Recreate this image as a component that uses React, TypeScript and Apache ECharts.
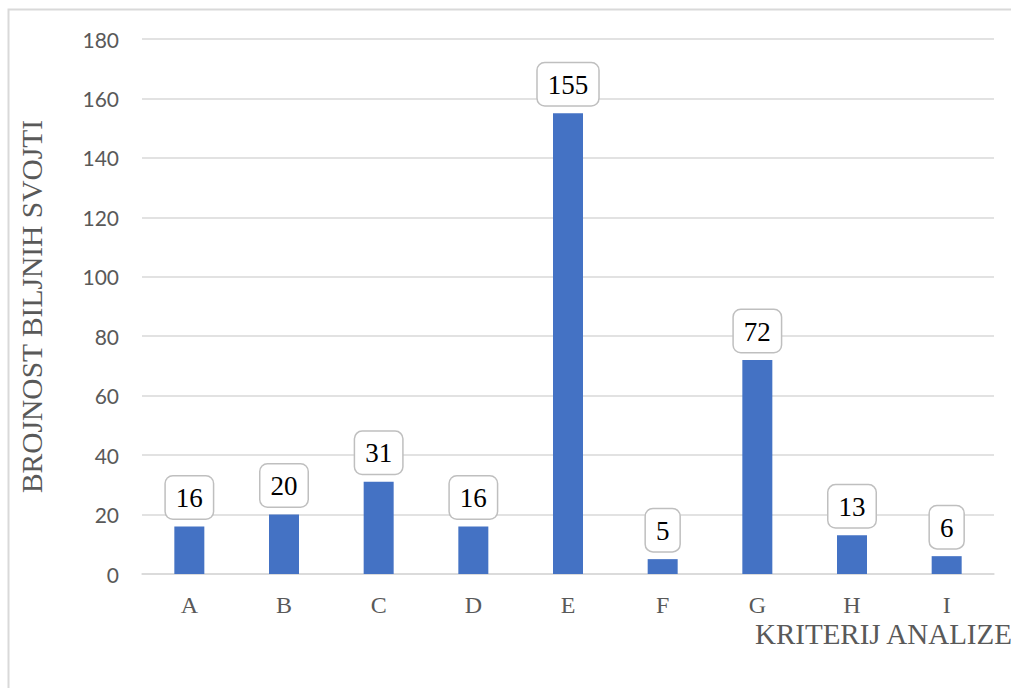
import React, { useEffect, useRef } from "react";
import * as echarts from "echarts";

const categories = ["A", "B", "C", "D", "E", "F", "G", "H", "I"];
const values = [16, 20, 31, 16, 155, 5, 72, 13, 6];
const yAxisTitle = "BROJNOST BILJNIH SVOJTI";
const xAxisTitle = "KRITERIJ ANALIZE";

const SERIF = "Liberation Serif";

export default function App() {
  const ref = useRef<HTMLDivElement>(null);
  useEffect(() => {
    if (!ref.current) return;
    const chart = echarts.init(ref.current, null, { renderer: "svg" });
    chart.setOption({
      animation: false,
      backgroundColor: "#ffffff",
      grid: { left: 142, right: 17, top: 39, bottom: 114 },
      graphic: [
        {
          type: "polyline",
          shape: { points: [[8.5, 688], [8.5, 9.5], [1011, 9.5]] },
          style: { stroke: "#d9d9d9", lineWidth: 2, fill: "none" },
          silent: true,
        },
        {
          type: "text",
          left: 755,
          top: 619,
          style: {
            text: xAxisTitle,
            fill: "#595959",
            fontFamily: SERIF,
            fontSize: 29,
          },
        },
      ],
      xAxis: {
        type: "category",
        data: categories,
        axisLine: { lineStyle: { color: "#d9d9d9", width: 1.5 } },
        axisTick: { show: false },
        axisLabel: {
          color: "#595959",
          fontFamily: SERIF,
          fontSize: 24,
          margin: 19,
        },
      },
      yAxis: {
        type: "value",
        min: 0,
        max: 180,
        interval: 20,
        name: yAxisTitle,
        nameLocation: "middle",
        nameGap: 95,
        nameTextStyle: {
          color: "#595959",
          fontFamily: SERIF,
          fontSize: 29.5,
        },
        axisLine: { show: false },
        axisTick: { show: false },
        axisLabel: {
          color: "#595959",
          fontFamily: "Lato",
          fontSize: 21,
          margin: 23,
        },
        splitLine: { lineStyle: { color: "#d9d9d9", width: 1.5 } },
      },
      series: [
        {
          type: "bar",
          data: values,
          barWidth: 30,
          itemStyle: { color: "#4472c4" },
          label: {
            show: true,
            position: "top",
            distance: 8,
            color: "#000000",
            fontFamily: SERIF,
            fontSize: 27,
            backgroundColor: "#ffffff",
            borderColor: "#bfbfbf",
            borderWidth: 1.5,
            borderRadius: 7,
            padding: [8, 10, 7, 10],
          },
        },
      ],
    });
    return () => chart.dispose();
  }, []);
  return <div ref={ref} style={{ width: 1011, height: 688, position: "absolute", left: 0, top: 0 }} />;
}
